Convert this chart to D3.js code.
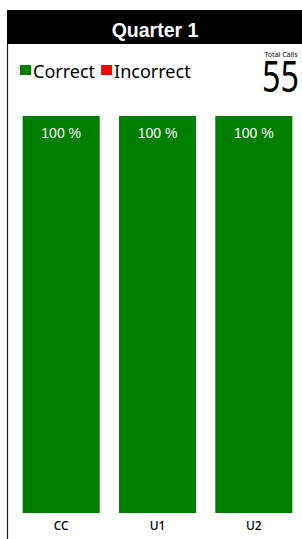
<!DOCTYPE html>
<html>
<head>
<meta charset="utf-8">
<script src="https://cdn.jsdelivr.net/npm/d3@7"></script>
<style>
  body { margin: 0; background: #fff; }
  svg { display: block; }
</style>
</head>
<body>
<div id="chart"></div>
<script>
var title = "Quarter 1";
var categories = ["CC", "U1", "U2"];
var correctPct = [100, 100, 100];
var incorrectPct = [0, 0, 0];
var totalCalls = 55;
var legendItems = ["Correct", "Incorrect"];
var colors = { "Correct": "#008000", "Incorrect": "#ff0000" };

var width = 302, height = 539;
var svg = d3.select("#chart").append("svg")
    .attr("width", width)
    .attr("height", height);

// header
svg.append("rect")
    .attr("x", 7).attr("y", 10)
    .attr("width", width - 7).attr("height", 34)
    .attr("fill", "#000");
svg.append("text")
    .attr("x", 155).attr("y", 37)
    .attr("text-anchor", "middle")
    .attr("fill", "#fff")
    .style("font-family", "Liberation Sans, Arial, sans-serif")
    .style("font-size", "19.5px")
    .style("font-weight", "bold")
    .text(title);

// left border
svg.append("line")
    .attr("x1", 7.5).attr("x2", 7.5)
    .attr("y1", 44).attr("y2", height)
    .attr("stroke", "#222").attr("stroke-width", 1.2);

// legend
var lx = 20;
legendItems.forEach(function (name) {
    svg.append("rect")
        .attr("x", lx).attr("y", 65)
        .attr("width", 11).attr("height", 10)
        .attr("fill", colors[name]);
    var t = svg.append("text")
        .attr("x", lx + 13).attr("y", 78)
        .style("font-family", "Noto Sans, sans-serif")
        .style("font-size", "18px")
        .attr("fill", "#000")
        .text(name);
    lx += 13 + t.node().getComputedTextLength() + 6;
});

// total calls
svg.append("text")
    .attr("x", 281).attr("y", 57)
    .attr("text-anchor", "middle")
    .style("font-family", "Noto Sans, sans-serif")
    .style("font-size", "7px")
    .text("Total Calls");
svg.append("text")
    .attr("x", 262).attr("y", 92)
    .attr("textLength", 37)
    .attr("lengthAdjust", "spacingAndGlyphs")
    .style("font-family", "Noto Sans, sans-serif")
    .style("font-size", "43px")
    .text(totalCalls);

// bars
var x = d3.scaleBand()
    .domain(categories)
    .range([13, 302])
    .paddingInner(0.2)
    .paddingOuter(0.1);
var y = d3.scaleLinear()
    .domain([0, 100])
    .range([513, 116]);

var rows = categories.map(function (c, i) {
    return { cat: c, correct: correctPct[i], incorrect: incorrectPct[i] };
});

svg.selectAll("rect.correct")
    .data(rows)
    .enter()
    .append("rect")
    .attr("class", "correct")
    .attr("x", function (d) { return x(d.cat); })
    .attr("y", function (d) { return y(d.correct); })
    .attr("width", x.bandwidth())
    .attr("height", function (d) { return y(0) - y(d.correct); })
    .attr("fill", colors["Correct"]);

svg.selectAll("rect.incorrect")
    .data(rows)
    .enter()
    .append("rect")
    .attr("class", "incorrect")
    .attr("x", function (d) { return x(d.cat); })
    .attr("y", function (d) { return y(d.correct + d.incorrect); })
    .attr("width", x.bandwidth())
    .attr("height", function (d) { return y(d.correct) - y(d.correct + d.incorrect); })
    .attr("fill", colors["Incorrect"]);

svg.selectAll("text.pct")
    .data(rows)
    .enter()
    .append("text")
    .attr("class", "pct")
    .attr("x", function (d) { return x(d.cat) + x.bandwidth() / 2; })
    .attr("y", function (d) { return y(d.correct) + 22; })
    .attr("text-anchor", "middle")
    .attr("fill", "#fff")
    .style("font-family", "Liberation Sans, Arial, sans-serif")
    .style("font-size", "14px")
    .text(function (d) { return d.correct + " %"; });

// category labels
svg.append("g")
    .attr("transform", "translate(0,513)")
    .call(d3.axisBottom(x).tickSize(0).tickPadding(8))
    .call(function (g) { g.select(".domain").remove(); })
    .selectAll("text")
    .style("font-family", "Noto Sans, sans-serif")
    .style("font-size", "12px")
    .style("font-weight", "500")
    .attr("fill", "#000");
</script>
</body>
</html>
